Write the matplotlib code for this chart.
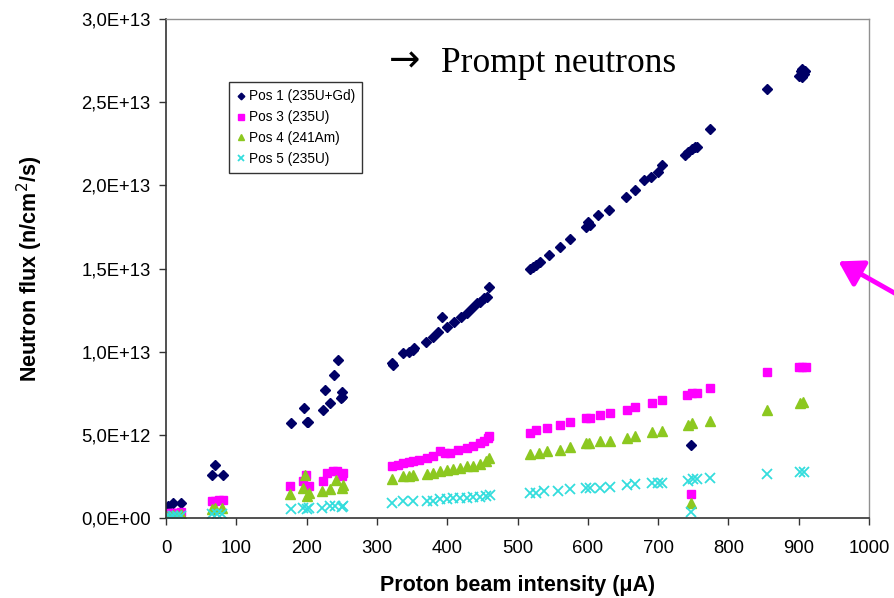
import matplotlib
matplotlib.use("Agg")
import matplotlib.pyplot as plt
from matplotlib.patches import FancyArrowPatch

# ---------------- data (y in units of 1e12 n/cm2/s) ----------------
pos1_x = [0, 3, 10, 22, 65, 70, 81,
          178, 196, 200, 202, 223, 226, 233, 239, 245, 249, 251, 250,
          321, 323, 337, 345, 351, 353, 370, 380, 387, 393, 400, 410, 420, 428, 435, 442, 447, 452, 456, 460,
          518, 522, 527, 532, 545, 560, 575, 598, 600, 603, 615, 630, 655, 667, 680, 690, 700, 705,
          738, 742, 748, 752, 755, 774, 855, 900, 903, 905, 907, 909, 905, 747]
pos1_y = [0.6, 0.7, 0.9, 0.9, 2.6, 3.2, 2.6,
          5.7, 6.6, 5.8, 5.8, 6.5, 7.7, 6.9, 8.6, 9.5, 7.2, 7.3, 7.6,
          9.3, 9.2, 9.9, 10.0, 10.1, 10.2, 10.6, 10.9, 11.2, 12.1, 11.5, 11.8, 12.1, 12.3, 12.6, 12.9, 13.0, 13.2, 13.3, 13.9,
          15.0, 15.1, 15.2, 15.4, 15.8, 16.3, 16.8, 17.5, 17.8, 17.6, 18.2, 18.5, 19.3, 19.7, 20.3, 20.5, 20.8, 21.2,
          21.8, 22.0, 22.2, 22.3, 22.3, 23.4, 25.8, 26.6, 26.9, 27.0, 26.7, 26.9, 26.5, 4.4]

pos3_x = [0, 3, 8, 12, 17, 22, 65, 70, 75, 81,
          176, 195, 199, 203, 223, 229, 237, 243, 250, 252,
          321, 330, 337, 345, 351, 360, 371, 380, 390, 397, 404, 415, 428, 437, 447, 452, 458, 460,
          518, 527, 542, 560, 575, 598, 603, 617, 632, 656, 667, 691, 705, 741, 748, 755, 774,
          855, 900, 905, 910, 747]
pos3_y = [0.25, 0.3, 0.3, 0.3, 0.3, 0.35, 1.0, 1.0, 1.1, 1.1,
          1.9, 2.2, 2.6, 1.9, 2.2, 2.7, 2.8, 2.8, 2.5, 2.7,
          3.1, 3.2, 3.3, 3.35, 3.4, 3.5, 3.6, 3.75, 4.0, 3.9, 3.9, 4.1, 4.2, 4.3, 4.5, 4.6, 4.8, 4.9,
          5.1, 5.3, 5.4, 5.6, 5.8, 6.0, 6.0, 6.2, 6.3, 6.5, 6.7, 6.9, 7.1, 7.4, 7.5, 7.5, 7.8,
          8.75, 9.1, 9.1, 9.1, 1.45]

pos4_x = [0, 5, 10, 15, 22, 65, 70, 80,
          177, 195, 198, 200, 203, 222, 233, 242, 250, 252,
          321, 337, 345, 351, 371, 380, 390, 400, 408, 418, 428, 437, 447, 455, 460,
          518, 530, 542, 560, 575, 598, 602, 617, 632, 656, 667, 691, 705, 742, 748, 774,
          855, 902, 906, 747]
pos4_y = [0.1, 0.15, 0.2, 0.2, 0.25, 0.55, 0.6, 0.6,
          1.45, 1.8, 2.6, 1.3, 1.5, 1.6, 1.75, 2.3, 1.8, 2.0,
          2.35, 2.5, 2.55, 2.6, 2.65, 2.7, 2.8, 2.9, 2.95, 3.0, 3.1, 3.15, 3.25, 3.4, 3.6,
          3.85, 3.9, 4.0, 4.1, 4.25, 4.5, 4.5, 4.6, 4.65, 4.8, 4.95, 5.2, 5.25, 5.6, 5.7, 5.85,
          6.5, 6.9, 7.0, 0.9]

pos5_x = [0, 5, 10, 15, 22, 65, 72, 80,
          178, 195, 200, 203, 222, 233, 240, 250, 252,
          321, 337, 351, 371, 380, 390, 400, 408, 418, 428, 437, 447, 455, 461,
          518, 527, 537, 558, 575, 598, 603, 617, 632, 656, 667, 691, 700, 705, 743, 750, 756, 774,
          855, 902, 908, 747]
pos5_y = [0.05, 0.05, 0.1, 0.1, 0.12, 0.25, 0.25, 0.25,
          0.55, 0.6, 0.55, 0.6, 0.6, 0.7, 0.75, 0.65, 0.7,
          0.9, 1.0, 1.0, 1.0, 1.05, 1.15, 1.15, 1.2, 1.2, 1.2, 1.25, 1.25, 1.3, 1.4,
          1.5, 1.5, 1.6, 1.6, 1.75, 1.8, 1.8, 1.8, 1.85, 2.0, 2.05, 2.1, 2.1, 2.1, 2.25, 2.35, 2.35, 2.4,
          2.65, 2.75, 2.75, 0.35]

series_labels = ["Pos 1 (235U+Gd)", "Pos 3 (235U)", "Pos 4 (241Am)", "Pos 5 (235U)"]
x_ticks = [0, 100, 200, 300, 400, 500, 600, 700, 800, 900, 1000]
y_ticks = [0, 5e12, 1e13, 1.5e13, 2e13, 2.5e13, 3e13]
y_tick_labels = ["0,0E+00", "5,0E+12", "1,0E+13", "1,5E+13", "2,0E+13", "2,5E+13", "3,0E+13"]

# ---------------- figure ----------------
W, H = 894, 598
fig = plt.figure(figsize=(W / 100, H / 100), dpi=100)
ax = fig.add_axes([166 / W, 1 - 518 / H, (869 - 166) / W, (518 - 19) / H])

sc = 1e12
ax.plot(pos1_x, [v * sc for v in pos1_y], linestyle="none", marker="D", ms=5.2,
        color="#000066", label=series_labels[0])
ax.plot(pos3_x, [v * sc for v in pos3_y], linestyle="none", marker="s", ms=5.8,
        color="#ff00ff", label=series_labels[1])
ax.plot(pos4_x, [v * sc for v in pos4_y], linestyle="none", marker="^", ms=7,
        color="#8cc820", label=series_labels[2])
ax.plot(pos5_x, [v * sc for v in pos5_y], linestyle="none", marker="x", ms=6.5, mew=1.3,
        color="#33dddd", label=series_labels[3])

ax.set_xlim(0, 1000)
ax.set_ylim(0, 3e13)
ax.set_xticks(x_ticks)
ax.set_xticklabels([str(t) for t in x_ticks])
ax.set_yticks(y_ticks)
ax.set_yticklabels(y_tick_labels)

for lbl in ax.get_xticklabels() + ax.get_yticklabels():
    lbl.set_fontfamily("Liberation Sans")
    lbl.set_fontsize(13.3)
ax.tick_params(direction="out", length=5, width=1, color="#333333", pad=6)
ax.tick_params(axis="x", pad=11)

for s in ["left", "bottom"]:
    ax.spines[s].set_color("#333333")
    ax.spines[s].set_linewidth(1.2)
for s in ["top", "right"]:
    ax.spines[s].set_color("#909090")
    ax.spines[s].set_linewidth(1.0)

ax.set_xlabel("Proton beam intensity (\u03bcA)", fontfamily="Liberation Sans",
              fontweight="bold", fontsize=15.5, labelpad=13)
ax.set_ylabel("Neutron flux (n/cm$^2$/s)", fontfamily="Liberation Sans",
              fontweight="bold", fontsize=15.5, labelpad=26)

leg = ax.legend(loc="upper left", bbox_to_anchor=(229 / W, 1 - 82 / H),
                bbox_transform=fig.transFigure, frameon=True, fancybox=False,
                prop={"family": "Liberation Sans", "size": 9.8},
                markerscale=0.65, handlelength=0.6, handletextpad=0.3,
                borderpad=0.55, labelspacing=0.5, borderaxespad=0)
leg.get_frame().set_edgecolor("#000000")
leg.get_frame().set_linewidth(1.0)

fig.text(389 / W, 1 - 61 / H, "\u2192", fontfamily="DejaVu Sans",
         fontsize=27, color="black", ha="left", va="center")
fig.text(441 / W, 1 - 72 / H, "Prompt neutrons", fontfamily="Liberation Serif",
         fontsize=25.5, color="black", ha="left", va="baseline")

arrow = FancyArrowPatch((898 / W, 1 - 295 / H), (836 / W, 1 - 260 / H),
                        transform=fig.transFigure, arrowstyle="-|>,head_length=9,head_width=5.5",
                        mutation_scale=1.6, color="#ff00ff", linewidth=3.5, clip_on=False)
fig.patches.append(arrow)

fig.savefig("out.png", dpi=100)
